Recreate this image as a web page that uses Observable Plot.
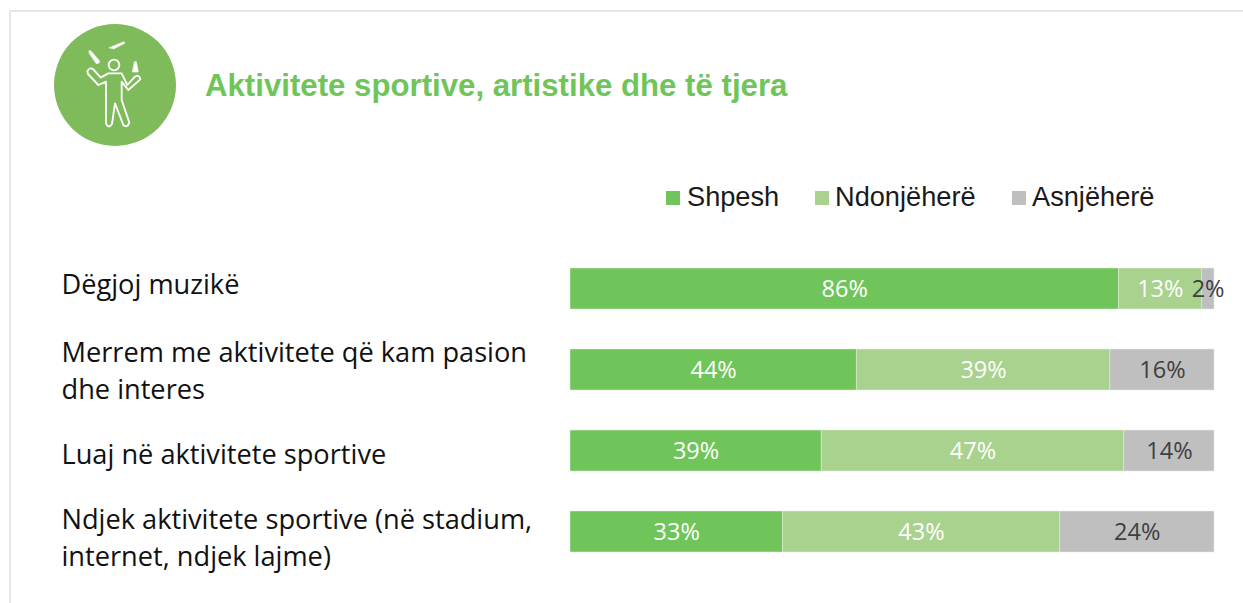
<!DOCTYPE html>
<html lang="sq">
<head>
<meta charset="utf-8">
<script src="https://cdn.jsdelivr.net/npm/d3@7"></script>
<script src="https://cdn.jsdelivr.net/npm/@observablehq/plot@0.6"></script>
<style>
html,body{margin:0;padding:0;background:#fff;overflow:hidden;width:1243px;height:603px}
#frame{position:absolute;left:9px;top:10px;right:0;bottom:0;border-top:2px solid #e6e6e6;border-left:2px solid #e6e6e6;pointer-events:none}
#header{position:relative;width:1243px;height:230px}
#icon{position:absolute;left:40px;top:10px}
#title{position:absolute;left:205px;top:68px;font:bold 31.2px "Liberation Sans",Arial,sans-serif;color:#70c55a;white-space:nowrap;line-height:36px}
#legend{position:absolute;left:666px;top:182px;height:30px;font:27.2px "Liberation Sans",Arial,sans-serif;color:#1a1a1a;line-height:30px;white-space:nowrap}
#legend span{position:absolute;top:0}
#legend i{position:absolute;top:9px;width:14px;height:14px}
#chart svg{display:block}
</style>
</head>
<body>
<div id="frame"></div>
<div id="header">
<svg id="icon" width="150" height="145" viewBox="0 0 450 435">
<circle cx="225" cy="225" r="183" fill="#7fbb5b"/>
<g fill="none" stroke="#fff" stroke-width="5.5" stroke-linejoin="round" stroke-linecap="round">
<circle cx="222" cy="165" r="16"/>
<path d="M142 184Q148 170 160 178L182 203L205 190H245L262 225L285 200Q298 192 301 208L265 240L245 215V270L268 338Q262 355 250 345L225 280L216 342Q205 358 198 340V215L175 225L144 192Z"/>
<path d="M148 122L152 122L178 152Q180 162 168 160L148 130Z" fill="#fff" stroke-width="2"/>
<path d="M208 113L252 95L254 100L222 116Z" fill="#fff" stroke-width="2"/>
<path d="M284 155L289 155L295 186L278 186Z" fill="#fff" stroke-width="2"/>
</g>
</svg>
<div id="title">Aktivitete sportive, artistike dhe të tjera</div>
<div id="legend"></div>
</div>
<div id="chart"></div>
<script>
const categories = ["Dëgjoj muzikë", "Merrem me aktivitete që kam pasion\ndhe interes", "Luaj në aktivitete sportive", "Ndjek aktivitete sportive (në stadium,\ninternet, ndjek lajme)"];
const seriesNames = ["Shpesh", "Ndonjëherë", "Asnjëherë"];
const shpesh = [86, 44, 39, 33];
const ndonjehere = [13, 39, 47, 43];
const asnjehere = [2, 16, 14, 24];
const colors = ["#70c55a", "#a9d28e", "#bfbfbf"];
const labelColors = ["#ffffff", "#ffffff", "#404040"];
const labelNudges = [-6.5, -1.5, 1.5, 3.5];
const legendX = [0, 149, 346];

const rows = [shpesh, ndonjehere, asnjehere].flatMap((vals, s) =>
  vals.map((v, i) => ({category: categories[i], series: seriesNames[s], value: v})));

const stack = {x: "value", y: "category", z: "series", offset: "normalize", order: seriesNames};

const chart = Plot.plot({
  width: 1243, height: 373,
  margin: 0,
  style: {background: "transparent", overflow: "visible"},
  x: {domain: [0, 1], range: [570, 1214], axis: null},
  y: {domain: categories, range: [17.1, 342.9], paddingInner: 0.5, paddingOuter: 0.25, axis: null},
  color: {domain: seriesNames, range: colors},
  marks: [
    Plot.barX(rows, Plot.stackX({...stack, fill: "series", stroke: "#e8eee4", strokeWidth: 0.5})),
    Plot.text(rows, Plot.stackX({...stack, text: d => d.value + "%", fill: d => labelColors[seriesNames.indexOf(d.series)],
      fontFamily: "Open Sans", fontSize: 23.5})),
    ...categories.map((c, i) => Plot.text([c], {
      y: d => d, frameAnchor: "left", dx: 61, dy: labelNudges[i], textAnchor: "start",
      lineHeight: 1.36, fontFamily: "Open Sans", fontSize: 27.2, fill: "#111"
    }))
  ]
});
document.getElementById("chart").appendChild(chart);

const legend = document.getElementById("legend");
seriesNames.forEach((n, i) => {
  const sw = document.createElement("i");
  sw.style.left = legendX[i] + "px";
  sw.style.background = colors[i];
  const t = document.createElement("span");
  t.style.left = (i === 0 ? legendX[i] + 21 : legendX[i] + 20) + "px";
  t.textContent = n;
  legend.append(sw, t);
});
</script>
</body>
</html>
